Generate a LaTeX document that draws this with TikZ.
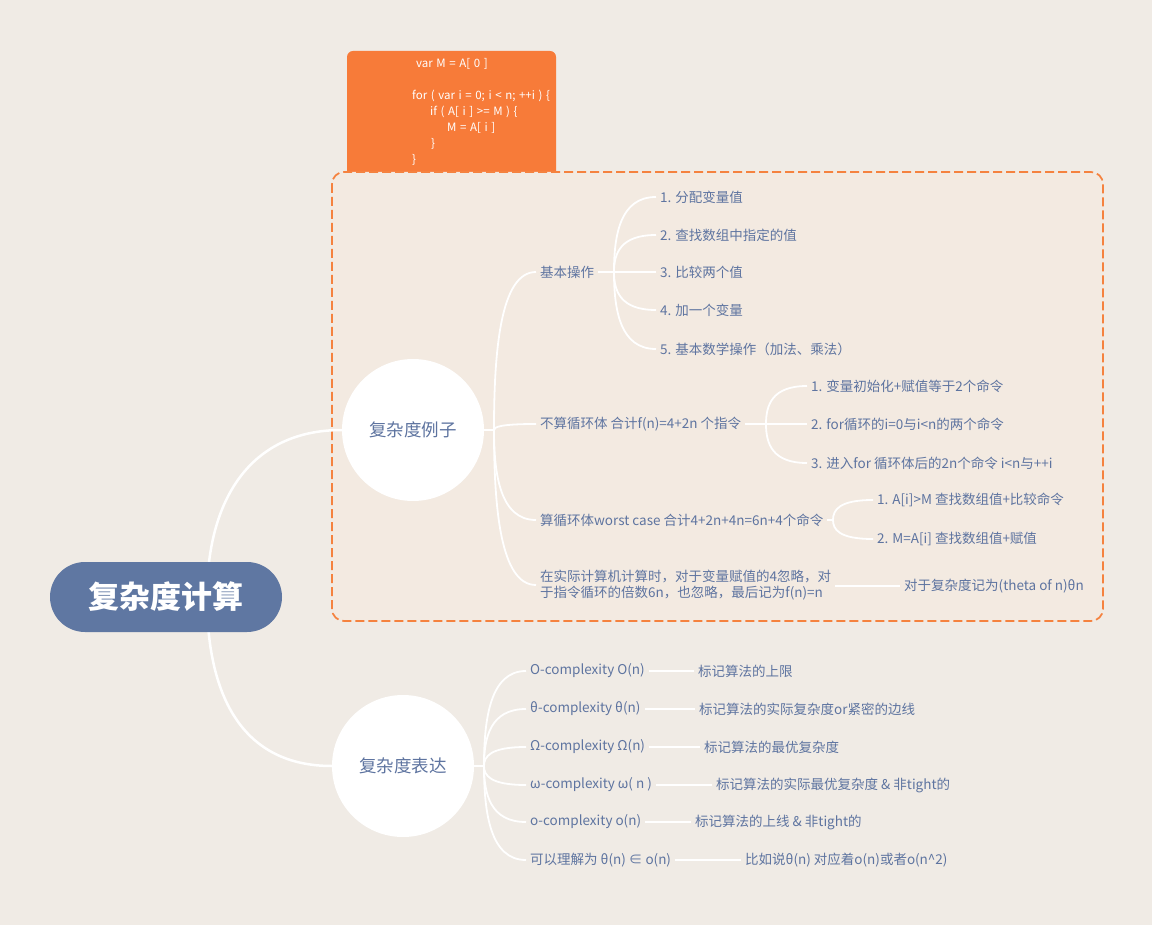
\documentclass[tikz,border=0pt]{standalone}
\usepackage{fontspec}
\setmainfont{Noto Sans CJK SC}
\usetikzlibrary{calc,backgrounds}
\definecolor{bg}{HTML}{F0EBE5}
\definecolor{boxbg}{HTML}{F3EAE1}
\definecolor{orng}{HTML}{F77B39}
\definecolor{dashc}{HTML}{F5823F}
\definecolor{txt}{HTML}{5E74A0}
\definecolor{rootc}{HTML}{5F77A2}
\newcommand\mycodefont{\fontsize{11.5}{13}\selectfont\spaceskip=3.6pt\relax}
\begin{document}
\begin{tikzpicture}[x=1pt,y=-1pt,
  lbl/.style={anchor=west, text=txt, font=\fontsize{13.5}{16}\selectfont, inner xsep=4pt, inner ysep=2pt},
  codeline/.style={anchor=west, text=white, font=\mycodefont, inner sep=0pt},
  circ/.style={circle, fill=white, minimum size=142pt, inner sep=0pt, text=txt, font=\fontsize{17.5}{20}\selectfont},
  rootbox/.style={rectangle, rounded corners=35pt, fill=rootc, minimum width=232pt, minimum height=70pt, text=white, font=\fontsize{31}{36}\selectfont\bfseries},
  conn/.style={draw=white, line width=1.8pt},
  rootconn/.style={draw=white, line width=2.5pt},
  branch/.style={to path={let \p1=(\tikztostart),\p2=(\tikztotarget) in .. controls (\x1,{\y1+0.5*(\y2-\y1)}) and ({\x1+0.15*(\x2-\x1)},\y2) .. (\tikztotarget)}}
]
\useasboundingbox (0,0) rectangle (1152,925);
\begin{scope}[on background layer]
  \fill[bg] (0,0) rectangle (1152,925);
  \fill[orng, rounded corners=6pt] (347,51) rectangle (556,180);
  \draw[dashc, fill=boxbg, line width=1.7pt, dash pattern=on 9pt off 4pt, rounded corners=12pt] (332,172) rectangle (1103,621);
\end{scope}

% code
\node[codeline] (k1) at (416,64) {var M = A[ 0 ]};
\node[codeline] (k2) at (412,96) {for ( var i = 0; i < n; ++i ) \{};
\node[codeline] (k3) at (430,112) {if ( A[ i ] >= M ) \{};
\node[codeline] (k4) at (447,128) {M = A[ i ]};
\node[codeline] (k5) at (431,144) {\}};
\node[codeline] (k6) at (412,160) {\}};

% main nodes
\node[rootbox] (root) at (166,597) {复杂度计算};
\node[circ] (c1) at (413,430) {复杂度例子};
\node[circ] (c2) at (403,766) {复杂度表达};
\coordinate (rs) at (207,597);
\coordinate (p1) at (494,430);
\coordinate (p2) at (484,766);

% branch 1
\node[lbl] (a) at (536,272) {基本操作};
\node[lbl] (a1) at (656,197) {1. 分配变量值};
\node[lbl] (a2) at (656,235) {2. 查找数组中指定的值};
\node[lbl] (a3) at (656,272) {3. 比较两个值};
\node[lbl] (a4) at (656,310) {4. 加一个变量};
\node[lbl] (a5) at (656,349) {5. 基本数学操作（加法、乘法）};
\coordinate (pa) at (614,272);

\node[lbl] (b) at (536,424) {不算循环体 合计f(n)=4+2n 个指令};
\node[lbl] (b1) at (807,386) {1. 变量初始化+赋值等于2个命令};
\node[lbl] (b2) at (807,424) {2. for循环的i=0与i<n的两个命令};
\node[lbl] (b3) at (807,463) {3. 进入for 循环体后的2n个命令 i<n与++i};
\coordinate (pb) at (766,424);

\node[lbl] (c) at (536,520) {算循环体worst case 合计4+2n+4n=6n+4个命令};
\node[lbl] (cc1) at (873,500) {1. A[i]>M 查找数组值+比较命令};
\node[lbl] (cc2) at (873,539) {2. M=A[i] 查找数组值+赋值};
\coordinate (pc) at (833,520);

\node[lbl, align=left, font=\fontsize{13.5}{16}\selectfont] (d) at (536,585) {在实际计算机计算时，对于变量赋值的4忽略，对\\于指令循环的倍数6n，也忽略，最后记为f(n)=n};
\node[lbl] (d1) at (900,586) {对于复杂度记为(theta of n)θn};

% branch 2
\node[lbl] (e1) at (526,671) {O-complexity O(n)};
\node[lbl] (f1) at (694,671) {标记算法的上限};
\node[lbl] (e2) at (526,709) {θ-complexity θ(n)};
\node[lbl] (f2) at (695,709) {标记算法的实际复杂度or紧密的边线};
\node[lbl] (e3) at (526,747) {Ω-complexity Ω(n)};
\node[lbl] (f3) at (700,747) {标记算法的最优复杂度};
\node[lbl] (e4) at (526,785) {ω-complexity ω( n )};
\node[lbl] (f4) at (712,785) {标记算法的实际最优复杂度 \& 非tight的};
\node[lbl] (e5) at (526,822) {o-complexity o(n)};
\node[lbl] (f5) at (691,822) {标记算法的上线 \& 非tight的};
\node[lbl] (e6) at (526,860) {可以理解为 θ(n) ∈ o(n)};
\node[lbl] (f6) at (741,860) {比如说θ(n) 对应着o(n)或者o(n\textasciicircum 2)};

\begin{scope}[on background layer]
  \draw[rootconn] (rs) .. controls (207,500) and (250,430) .. (c1.west);
  \draw[rootconn] (rs) .. controls (207,700) and (245,766) .. (c2.west);
  \draw[conn] (c1.east) -- (p1);
  \foreach \nm in {a,b,c,d} \draw[conn] (p1) to[branch] (\nm.west);
  \draw[conn] (a.east) -- (pa);
  \foreach \nm in {a1,a2,a3,a4,a5} \draw[conn] (pa) to[branch] (\nm.west);
  \draw[conn] (b.east) -- (pb);
  \foreach \nm in {b1,b2,b3} \draw[conn] (pb) to[branch] (\nm.west);
  \draw[conn] (c.east) -- (pc);
  \foreach \nm in {cc1,cc2} \draw[conn] (pc) to[branch] (\nm.west);
  \draw[conn] (d.east |- d1.west) -- (d1.west);
  \draw[conn] (c2.east) -- (p2);
  \foreach \nm in {e1,e2,e3,e4,e5,e6} \draw[conn] (p2) to[branch] (\nm.west);
  \draw[conn] (e1.east) -- (f1.west);
  \draw[conn] (e2.east) -- (f2.west);
  \draw[conn] (e3.east) -- (f3.west);
  \draw[conn] (e4.east) -- (f4.west);
  \draw[conn] (e5.east) -- (f5.west);
  \draw[conn] (e6.east) -- (f6.west);
\end{scope}
\end{tikzpicture}
\end{document}
